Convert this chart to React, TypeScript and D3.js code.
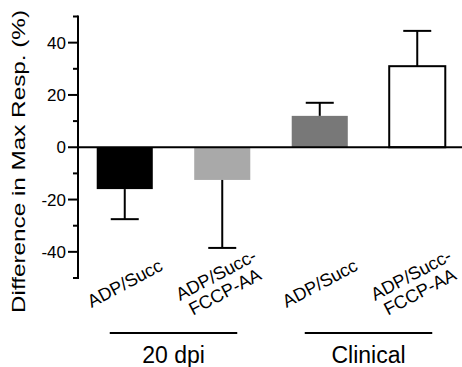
import React from "react";
import * as d3 from "d3";

const labels = [["ADP/Succ"], ["ADP/Succ-", "FCCP-AA"], ["ADP/Succ"], ["ADP/Succ-", "FCCP-AA"]];
const means = [-16, -12.5, 12, 31];
const errors = [11.5, 26, 5, 13.5];
const fills = ["#000000", "#a9a9a9", "#787878", "#ffffff"];
const groups = ["20 dpi", "Clinical"];
const majorTicks = [-40, -20, 0, 20, 40];
const minorTicks = [-50, -30, -10, 10, 30, 50];

const W = 462;
const H = 367;
const FONT = "'Liberation Sans', Arial, Helvetica, sans-serif";

const App: React.FC = () => {
  const idx = means.map((_, i) => String(i));
  const x = d3.scaleBand<string>().domain(idx).range([76, 466]).paddingInner(0.425).paddingOuter(0.2125);
  const y = d3.scaleLinear().domain([-50, 50]).range([278, 16.5]);
  const axisX = 78;
  const bw = x.bandwidth();
  const capW = 28;
  const angle = -28;

  return (
    <svg width={W} height={H} style={{ position: "absolute", left: 0, top: 0 }} fontFamily={FONT}>
      <rect width={W} height={H} fill="#fff" />

      {/* bars */}
      {means.map((m, i) => {
        const x0 = x(String(i))!;
        const top = y(Math.max(m, 0));
        const h = Math.abs(y(m) - y(0));
        const white = fills[i] === "#ffffff";
        return (
          <rect key={"b" + i} x={x0} y={top} width={bw} height={h} fill={fills[i]}
            stroke={white ? "#000" : "none"} strokeWidth={2} />
        );
      })}

      {/* error bars */}
      {means.map((m, i) => {
        const cx = x(String(i))! + bw / 2;
        const end = m >= 0 ? m + errors[i] : m - errors[i];
        return (
          <g key={"e" + i} stroke="#000" strokeWidth={2}>
            <line x1={cx} x2={cx} y1={y(m)} y2={y(end)} />
            <line x1={cx - capW / 2} x2={cx + capW / 2} y1={y(end)} y2={y(end)} />
          </g>
        );
      })}

      {/* zero line */}
      <line x1={axisX} x2={W} y1={y(0)} y2={y(0)} stroke="#000" strokeWidth={2} />

      {/* y axis */}
      <line x1={axisX} x2={axisX} y1={y(50) - 1} y2={y(-50) + 1} stroke="#000" strokeWidth={2} />
      {majorTicks.map((t) => (
        <g key={"t" + t}>
          <line x1={axisX - 10} x2={axisX} y1={y(t)} y2={y(t)} stroke="#000" strokeWidth={2} />
          <text x={axisX - 12} y={y(t)} dy="0.36em" textAnchor="end" fontSize={17}>{t}</text>
        </g>
      ))}
      {minorTicks.map((t) => (
        <line key={"m" + t} x1={axisX - 5} x2={axisX} y1={y(t)} y2={y(t)} stroke="#000" strokeWidth={2} />
      ))}

      {/* y title */}
      <text transform={`translate(25,${161.5}) rotate(-90)`} textAnchor="middle" fontSize={18}
        textLength={303} lengthAdjust="spacingAndGlyphs">
        Difference in Max Resp. (%)
      </text>

      {/* category labels */}
      {labels.map((lines, i) => {
        const cx = x(String(i))! + bw / 2 - (lines.length > 1 ? 2 : 0);
        const lh = 19;
        return (
          <text key={"l" + i} transform={`translate(${cx},283) rotate(${angle})`} textAnchor="middle" fontSize={18}>
            {lines.map((s, j) => (
              <tspan key={j} x={0} y={(j - (lines.length - 1) / 2) * lh} dy="0.36em">{s}</tspan>
            ))}
          </text>
        );
      })}

      {/* group brackets */}
      {groups.map((g, k) => {
        const a = x(String(k * 2))! + bw / 2 - 15;
        const b = x(String(k * 2 + 1))! + bw / 2 + 15;
        return (
          <g key={"g" + k}>
            <line x1={a} x2={b} y1={333} y2={333} stroke="#000" strokeWidth={2} />
            <text x={(a + b) / 2} y={363} textAnchor="middle" fontSize={23}>{g}</text>
          </g>
        );
      })}
    </svg>
  );
};

export default App;
